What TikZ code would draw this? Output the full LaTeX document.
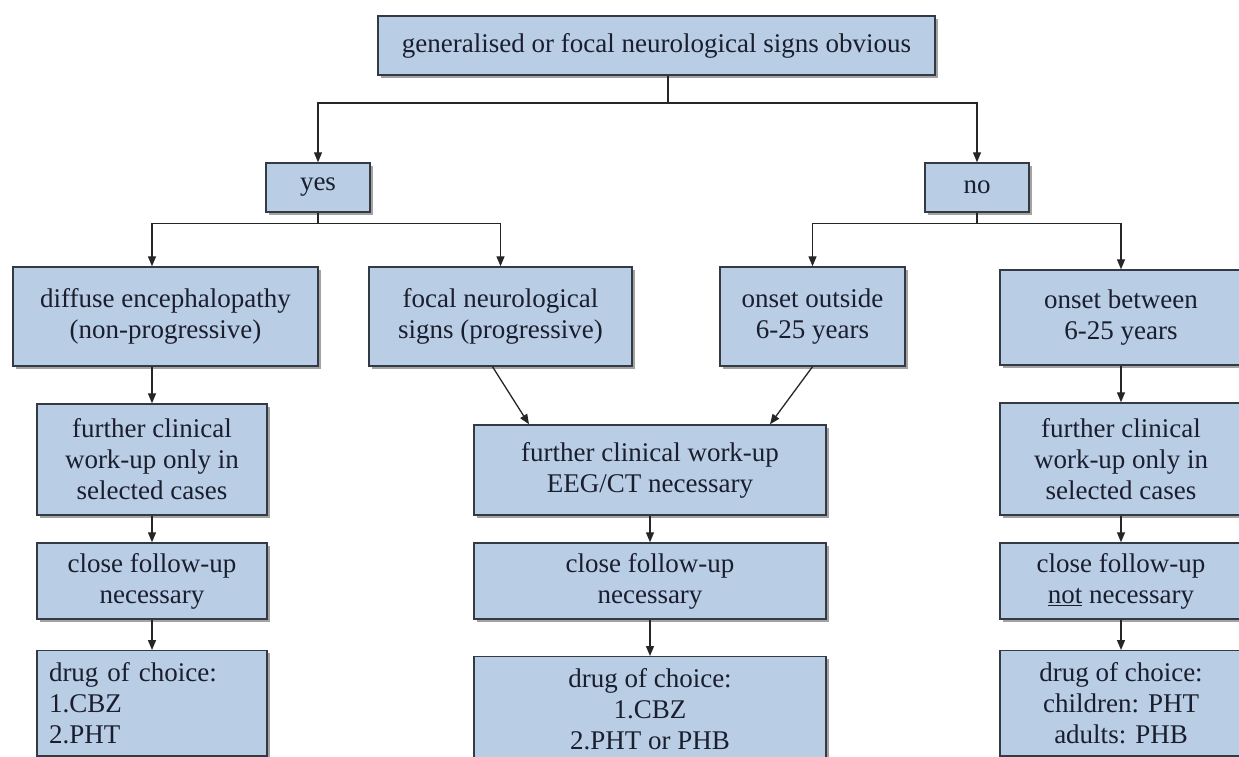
\documentclass[tikz,border=0pt]{standalone}
\usepackage{fontspec}
\setmainfont{Liberation Serif}
\usetikzlibrary{calc,positioning,arrows.meta,shadows}
\definecolor{boxfill}{RGB}{185,205,229}
\definecolor{boxline}{RGB}{52,58,68}
\definecolor{inktext}{RGB}{26,30,46}

\tikzset{
  chartbox/.style={draw=boxline, line width=1.4pt, fill=boxfill,
    drop shadow={shadow xshift=2.5pt, shadow yshift=-2.5pt, opacity=0.45, fill=black!80},
    text=inktext, align=center, inner sep=0pt, font=\fontsize{27}{31}\selectfont},
  drugbox/.style={chartbox, anchor=north, inner ysep=12pt},
  link/.style={line width=1.3pt, draw=black!85},
  linkarrow/.style={link, -{Triangle[length=10pt,width=8pt]}},
}

\begin{document}
\begin{tikzpicture}[x=1pt, y=-1pt]
  \useasboundingbox (0,0) rectangle (1239,756);
  \clip (0,0) rectangle (1239,756);

  % Question
  \node[chartbox, minimum width=557pt, minimum height=59pt] (signs) at (656.5,45.5)
    {generalised or focal neurological signs obvious};

  % Answers
  \node[chartbox, minimum width=104pt, minimum height=49pt] (yes) at (318,187.5) {yes};
  \node[chartbox, minimum width=104pt, minimum height=49pt] (no) at (977,187.5) {no};

  % Second level
  \node[chartbox, minimum width=305pt, minimum height=99pt] (diffuse) at (165.5,316.5)
    {diffuse encephalopathy\\(non-progressive)};
  \node[chartbox, minimum width=263pt, minimum height=99pt] (focal) at (500.5,316.5)
    {focal neurological\\signs (progressive)};
  \node[chartbox, minimum width=185pt, minimum height=99pt] (outside) at (812.5,316.5)
    {onset outside\\6-25 years};
  \node[chartbox, minimum width=242pt, minimum height=95pt] (between) at (1121,317.5)
    {onset between\\6-25 years};

  % Work-up
  \node[chartbox, minimum width=230pt, minimum height=111pt] (workleft) at (152,459.5)
    {further clinical\\work-up only in\\selected cases};
  \node[chartbox, minimum width=352pt, minimum height=90pt] (workmid) at (650,470)
    {further clinical work-up\\EEG/CT necessary};
  \node[chartbox, minimum width=242pt, minimum height=112pt] (workright) at (1121,459)
    {further clinical\\work-up only in\\selected cases};

  % Follow-up
  \node[chartbox, minimum width=230pt, minimum height=76pt] (followleft) at (152,581)
    {close follow-up\\necessary};
  \node[chartbox, minimum width=352pt, minimum height=76pt] (followmid) at (650,581)
    {close follow-up\\necessary};
  \node[chartbox, minimum width=242pt, minimum height=76pt] (followright) at (1121,581)
    {close follow-up\\\underline{not} necessary};

  % Drugs
  \node[drugbox, align=left, text width=206pt, inner xsep=12pt] (drugleft) at (152,650)
    {drug of choice:\\1.CBZ\\2.PHT};
  \node[drugbox, minimum width=352pt] (drugmid) at (650,656)
    {drug of choice:\\1.CBZ\\2.PHT or PHB};
  \node[drugbox, minimum width=242pt] (drugright) at (1121,650)
    {drug of choice:\\children: PHT\\adults: PHB};

  % Branching
  \coordinate (topsplit) at (668,103);
  \coordinate (yessplit) at ($(yes.south)+(0,11)$);
  \coordinate (nosplit) at ($(no.south)+(0,11)$);
  \draw[link] (signs.south -| topsplit) -- (topsplit);
  \draw[linkarrow] (topsplit) -| (yes);
  \draw[linkarrow] (topsplit) -| (no);
  \draw[link] (yes) -- (yessplit);
  \draw[linkarrow] (yessplit) -| (workleft.north |- diffuse.north);
  \draw[linkarrow] (yessplit) -| (focal);
  \draw[link] (no) -- (nosplit);
  \draw[linkarrow] (nosplit) -| (outside);
  \draw[linkarrow] (nosplit) -| (between);

  % Columns
  \draw[linkarrow] (diffuse.south -| workleft) -- (workleft);
  \draw[linkarrow] (workleft) -- (followleft);
  \draw[linkarrow] (followleft) -- (drugleft);
  \draw[linkarrow] ([xshift=-8pt]focal.south) -- ([xshift=-121pt]workmid.north);
  \draw[linkarrow] (outside.south) -- ([xshift=120pt]workmid.north);
  \draw[linkarrow] (workmid) -- (followmid);
  \draw[linkarrow] (followmid) -- (drugmid);
  \draw[linkarrow] (between) -- (workright);
  \draw[linkarrow] (workright) -- (followright);
  \draw[linkarrow] (followright) -- (drugright);
\end{tikzpicture}
\end{document}
